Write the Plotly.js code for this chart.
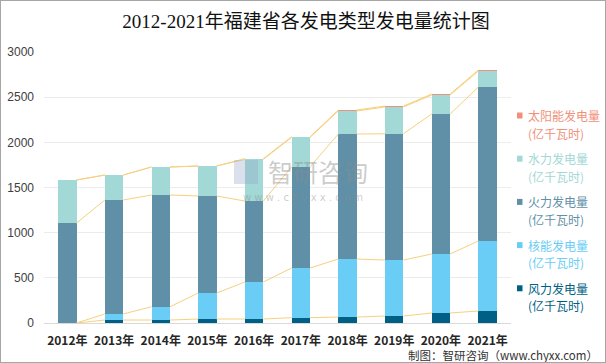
<!DOCTYPE html>
<html><head><meta charset="utf-8">
<script src="https://cdn.plot.ly/plotly-3.0.1.min.js"></script>
<style>
html,body{margin:0;padding:0;background:#fff;}
#frame{width:606px;height:363px;box-sizing:border-box;border:1px solid #a6a6a6;overflow:hidden;}
#chart{width:604px;height:361px;}
</style></head>
<body><div id="frame"><div id="chart"></div></div>
<script>
const years = ["2012年","2013年","2014年","2015年","2016年","2017年","2018年","2019年","2020年","2021年"];
const windPower    = [0, 33, 33, 44, 44, 59, 66, 77, 111, 133];
const nuclearPower = [0, 67, 147, 288, 410, 550, 642, 620, 653, 775];
const thermalPower = [1107, 1262, 1237, 1074, 896, 1121, 1384, 1398, 1550, 1705];
const hydroPower   = [476, 276, 310, 332, 462, 325, 255, 296, 210, 177];
const solarPower   = [0, 0, 0, 0, 8, 7, 11, 11, 11, 11];
const seriesNames = ["风力发电量","核能发电量","火力发电量","水力发电量","太阳能发电量"];
const unitLabel = "(亿千瓦时)";
const seriesColors = ["#005f85","#69cdf5","#5f90a8","#a2d8d5","#f0907a"];
const seriesData = [windPower, nuclearPower, thermalPower, hydroPower, solarPower];

const xs = years.map((_, i) => i);
const barW = 0.395;
const traces = [];

// Excel-style series lines connecting stacked tops
const cum = years.map(() => 0);
const levels = [];
seriesData.forEach(s => { s.forEach((v, i) => cum[i] += v); levels.push(cum.slice()); });
levels.forEach(lv => {
  const lx = [], ly = [];
  for (let i = 0; i < years.length - 1; i++) {
    lx.push(i + barW / 2, i + 1 - barW / 2, null);
    ly.push(lv[i], lv[i + 1], null);
  }
  traces.push({type:'scatter', mode:'lines', x:lx, y:ly, showlegend:false, hoverinfo:'skip',
    line:{color:'#f7d07e', width:1}});
});

seriesData.forEach((s, k) => {
  traces.push({type:'bar', x:xs, y:s, name:seriesNames[k], width:barW, showlegend:false,
    marker:{color:seriesColors[k], line:{width:0}}});
});

// custom legend (top to bottom: reversed series order)
const PL = 43, PW = 467, PT = 51, PH = 271;
const px2x = X => (X - 1 - PL) / PW;
const py2y = Y => (PT + PH - (Y - 1)) / PH;
const annotations = [];
const shapes = [];
const legendOrder = [4, 3, 2, 1, 0];
legendOrder.forEach((k, j) => {
  const yc = 115.5 + j * 43.2;
  shapes.push({type:'rect', xref:'paper', yref:'paper', x0:px2x(517), x1:px2x(522.5),
    y0:py2y(yc + 3), y1:py2y(yc - 3), fillcolor:seriesColors[k], line:{width:0}});
  annotations.push({xref:'paper', yref:'paper', x:px2x(526), y:py2y(yc), xanchor:'left', yanchor:'middle',
    showarrow:false, text:seriesNames[k], font:{family:'"Noto Sans CJK SC",sans-serif', size:12, color:seriesColors[k]}});
  annotations.push({xref:'paper', yref:'paper', x:px2x(526), y:py2y(yc + 17.5), xanchor:'left', yanchor:'middle',
    showarrow:false, text:unitLabel, font:{family:'"Noto Sans CJK SC",sans-serif', size:12, color:seriesColors[k]}});
});
annotations.push({xref:'paper', yref:'paper', x:px2x(600), y:py2y(355), xanchor:'right', yanchor:'middle', showarrow:false,
  text:'制图：智研咨询（www.chyxx.com）', font:{family:'"Noto Sans CJK SC",sans-serif', size:11.5, color:'#333'}});
annotations.push({xref:'paper', yref:'paper', x:px2x(318), y:py2y(171), xanchor:'center', yanchor:'middle', showarrow:false,
  text:'智研咨询', font:{family:'"Noto Sans CJK SC",sans-serif', size:25, color:'rgba(140,140,140,0.45)'}});
annotations.push({xref:'paper', yref:'paper', x:px2x(303), y:py2y(197), xanchor:'center', yanchor:'middle', showarrow:false,
  text:'w w w . c h y x x . c o m', font:{family:'"DejaVu Sans",sans-serif', size:10, color:'rgba(140,140,140,0.45)'}});
// watermark logo block
shapes.push({type:'rect', xref:'paper', yref:'paper', x0:px2x(234), x1:px2x(258), y0:py2y(184), y1:py2y(160),
  fillcolor:'rgba(150,170,200,0.35)', line:{width:0}, layer:'above'});

const layout = {
  width:604, height:361,
  margin:{l:PL, r:604 - PL - PW, t:PT, b:361 - PT - PH},
  paper_bgcolor:'#fff', plot_bgcolor:'#fff',
  barmode:'stack',
  showlegend:false,
  title:{text:'2012-2021年福建省各发电类型发电量统计图', x:0.505, xanchor:'center', y:0.945, yanchor:'middle',
    font:{family:'"Liberation Serif","Noto Sans CJK SC",serif', size:19, color:'#111'}},
  xaxis:{range:[-0.5, 9.5], tickvals:xs, ticktext:years, showgrid:false, zeroline:false,
    showline:true, linecolor:'#d9d9d9', linewidth:1, ticks:'', ticklabelstandoff:7,
    tickfont:{family:'"Noto Sans CJK SC",sans-serif', size:12, color:'#262626', weight:'bold'}},
  yaxis:{range:[0, 3000], dtick:500, showgrid:true, gridcolor:'#ececec', gridwidth:1, zeroline:false,
    showline:false, ticks:'', ticklabelstandoff:9,
    tickfont:{family:'"Liberation Sans","Noto Sans CJK SC",sans-serif', size:12, color:'#404040'}},
  annotations: annotations,
  shapes: shapes
};
Plotly.newPlot('chart', traces, layout, {displayModeBar:false, staticPlot:true});
</script></body></html>
